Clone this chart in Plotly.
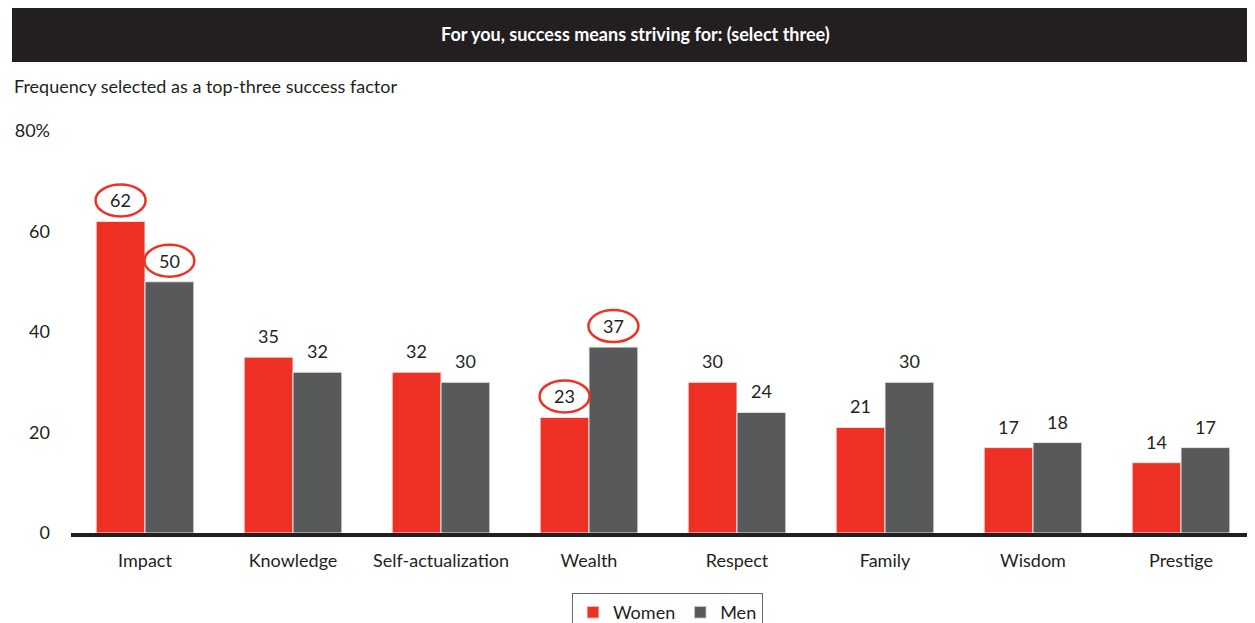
import plotly.graph_objects as go

categories = ["Impact", "Knowledge", "Self-actualization", "Wealth", "Respect", "Family", "Wisdom", "Prestige"]
women = [62, 35, 32, 23, 30, 21, 17, 14]
men = [50, 32, 30, 37, 24, 30, 18, 17]
circled_women = ["Impact", "Wealth"]
circled_men = ["Impact", "Wealth"]
y_ticks = [0, 20, 40, 60, 80]
y_ticktext = ["0", "20", "40", "60", "80%"]

RED = "#ee3124"
GRAY = "#58595b"
DARK = "#231f20"
FONT = "Lato"

# the page body adds an 8px offset, so the figure is drawn 8px smaller and shifted
OFF = 8
W, H = 1255 - OFF, 623 - OFF
L, R, T, B = 71 - OFF, 0, 131 - OFF, 90
plot_w = W - L - R
plot_h = H - T - B
BARGAP = 0.34
half = (1 - BARGAP) / 4  # offset of each bar centre from category centre


def px(xr):  # reference x pixel -> paper x
    return (xr - OFF - L) / plot_w


fig = go.Figure()
fig.add_trace(go.Bar(name="Women", x=categories, y=women, marker=dict(color=RED, line=dict(color="#e6e6e6", width=1))))
fig.add_trace(go.Bar(name="Men", x=categories, y=men, marker=dict(color=GRAY, line=dict(color="#e6e6e6", width=1))))

annotations = []
shapes = []
for series, vals, sign, circ in [("Women", women, -1, circled_women), ("Men", men, 1, circled_men)]:
    for i, (c, v) in enumerate(zip(categories, vals)):
        xc = i + sign * half
        annotations.append(dict(x=xc, y=v, xref="x", yref="y", text=str(v), showarrow=False,
                                yanchor="middle", yshift=21, font=dict(size=18, color=DARK, family=FONT)))
        if c in circ:
            shapes.append(dict(type="circle", xref="x", yref="y", xsizemode="pixel", ysizemode="pixel",
                               xanchor=xc, yanchor=v, x0=-25, x1=25, y0=5, y1=37,
                               line=dict(color=RED, width=2.5)))

# title bar
shapes.append(dict(type="rect", xref="paper", yref="paper", ysizemode="pixel", yanchor=1,
                   x0=px(12), x1=1, y0=131 - 62, y1=131 - 5,
                   fillcolor=DARK, line=dict(width=0), layer="below"))
annotations.append(dict(x=px(635.5), y=1, xref="paper", yref="paper", yshift=131 - 33.5,
                        text="<b>For you, success means striving for: (select three)</b>", showarrow=False,
                        xanchor="center", yanchor="middle", font=dict(size=18, color="white", family=FONT)))
annotations.append(dict(x=px(12), y=1, xref="paper", yref="paper", yshift=131 - 86,
                        text="Frequency selected as a top-three success factor", showarrow=False,
                        xanchor="left", yanchor="middle", font=dict(size=18, color=DARK, family=FONT)))

fig.update_layout(
    width=W, height=H,
    margin=dict(l=L, r=R, t=T, b=B, autoexpand=False),
    barmode="group", bargap=BARGAP, bargroupgap=0,
    plot_bgcolor="white", paper_bgcolor="white",
    font=dict(family=FONT, size=17, color=DARK),
    showlegend=True,
    legend=dict(orientation="h", xref="container", yref="container", x=(667.5 - OFF) / W, xanchor="center",
                y=1 - (593 - OFF) / H, yanchor="top",
                bordercolor="#666666", borderwidth=1, font=dict(size=18, color=DARK, family=FONT),
                traceorder="normal"),
    annotations=annotations,
    shapes=shapes,
)
fig.update_xaxes(showline=True, linecolor=DARK, linewidth=4, ticks="", showgrid=False, automargin=False,
                 tickfont=dict(size=18, color=DARK, family=FONT), ticklabelstandoff=8)
fig.update_yaxes(range=[0, 80], tickvals=y_ticks, ticktext=y_ticktext, showgrid=False, zeroline=False,
                 showline=False, ticks="", ticklabelstandoff=20, automargin=False,
                 tickfont=dict(size=18, color=DARK, family=FONT))

fig.write_html("out.html")
